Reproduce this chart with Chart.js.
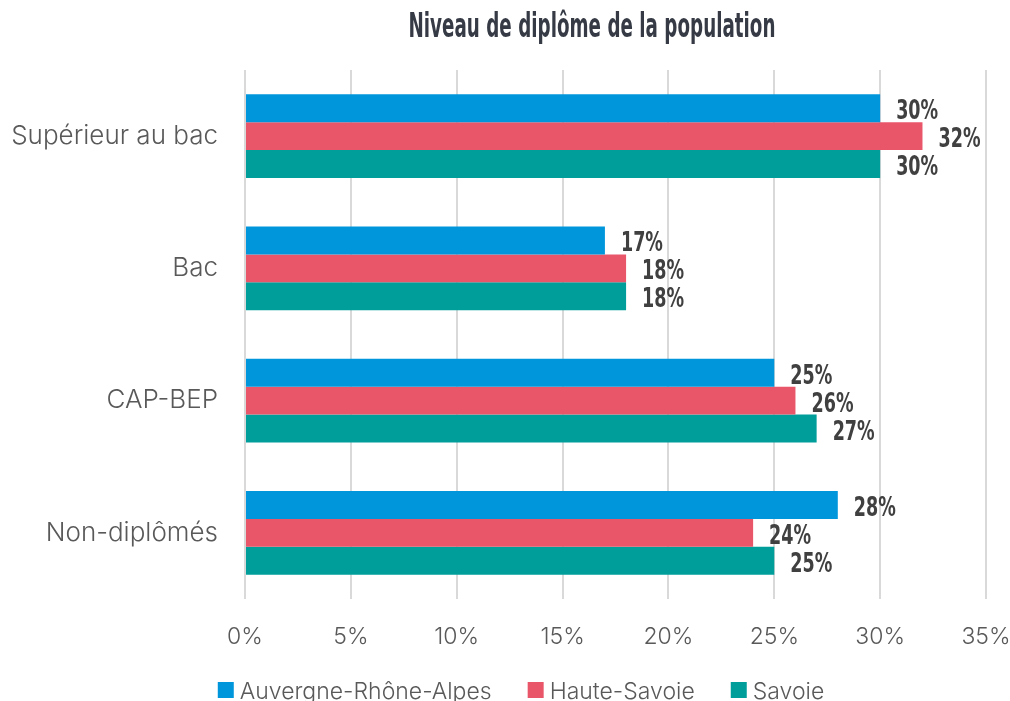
<!DOCTYPE html>
<html>
<head>
<meta charset="utf-8">
<script src="https://cdn.jsdelivr.net/npm/chart.js@4/dist/chart.umd.min.js"></script>
<style>
  html, body { margin: 0; padding: 0; background: #fff; }
  #wrap { width: 1010px; height: 701px; position: relative; }
</style>
</head>
<body>
<div id="wrap"><canvas id="chart" width="1010" height="701"></canvas></div>
<script>
// Data
const categories = ['Supérieur au bac', 'Bac', 'CAP-BEP', 'Non-diplômés'];
const seriesNames = ['Auvergne-Rhône-Alpes', 'Haute-Savoie', 'Savoie'];
const auvergneRhoneAlpes = [30, 17, 25, 28];
const hauteSavoie = [32, 18, 26, 24];
const savoie = [30, 18, 27, 25];
const seriesColors = ['#0096DC', '#E9566A', '#009E9B'];
const titleText = 'Niveau de diplôme de la population';

const boldFont = "'DejaVu Sans', sans-serif";
const light = "Inter, 'Open Sans', sans-serif";
const textGray = '#595959';

// no condensed bold face installed, so squeeze a bold one horizontally
function drawCondensed(ctx, text, x, y, sx) {
  ctx.save();
  ctx.translate(x, y);
  ctx.scale(sx, 1);
  ctx.fillText(text, 0, 0);
  ctx.restore();
}

const decorations = {
  id: 'decorations',
  afterDatasetsDraw(chart) {
    const { ctx } = chart;
    ctx.save();

    // value labels
    ctx.font = `bold 27px ${boldFont}`;
    ctx.fillStyle = '#404040';
    ctx.textAlign = 'left';
    ctx.textBaseline = 'alphabetic';
    chart.data.datasets.forEach((ds, i) => {
      chart.getDatasetMeta(i).data.forEach((bar, j) => {
        drawCondensed(ctx, ds.data[j] + '%', bar.x + 16, bar.y + 11, 0.65);
      });
    });

    // title
    ctx.font = `bold 33px ${boldFont}`;
    ctx.fillStyle = '#353A45';
    const tw = ctx.measureText(titleText).width;
    const sx = 367 / tw;
    drawCondensed(ctx, titleText, 592 - 367 / 2, 37, sx);

    // legend
    ctx.font = `300 23px ${light}`;
    const widths = seriesNames.map((n) => ctx.measureText(n).width);
    const box = 16, gapText = 6, gapItem = 36;
    const total = widths.reduce((a, w) => a + box + gapText + w, 0) + gapItem * (seriesNames.length - 1);
    let x = 521 - total / 2;
    seriesNames.forEach((name, i) => {
      ctx.fillStyle = seriesColors[i];
      ctx.fillRect(x, 682, box, box);
      ctx.fillStyle = textGray;
      ctx.fillText(name, x + box + gapText, 699);
      x += box + gapText + widths[i] + gapItem;
    });

    ctx.restore();
  }
};

new Chart(document.getElementById('chart'), {
  type: 'bar',
  data: {
    labels: categories,
    datasets: [auvergneRhoneAlpes, hauteSavoie, savoie].map((values, i) => ({
      label: seriesNames[i],
      data: values,
      backgroundColor: seriesColors[i],
      borderWidth: 0,
      categoryPercentage: 0.634,
      barPercentage: 1
    }))
  },
  options: {
    indexAxis: 'y',
    responsive: false,
    animation: false,
    devicePixelRatio: 1,
    layout: { padding: { top: 70, right: 24, bottom: 42, left: 0 } },
    plugins: {
      legend: { display: false },
      title: { display: false },
      tooltip: { enabled: false }
    },
    scales: {
      x: {
        min: 0,
        max: 35,
        afterFit: (scale) => {
          scale.height = 60;
          scale.paddingLeft = 0;
          scale.paddingRight = 0;
        },
        ticks: {
          stepSize: 5,
          color: textGray,
          font: { family: light, size: 23, weight: '300' },
          padding: 24,
          callback: (v) => v + '%'
        },
        grid: { color: '#D9D9D9', lineWidth: 2, drawTicks: false },
        border: { display: false }
      },
      y: {
        afterFit: (scale) => { scale.width = 245; },
        ticks: {
          color: textGray,
          font: { family: light, size: 26, weight: '300' },
          padding: 27
        },
        grid: { display: false, drawTicks: false },
        border: { display: false }
      }
    }
  },
  plugins: [decorations]
});
</script>
</body>
</html>
